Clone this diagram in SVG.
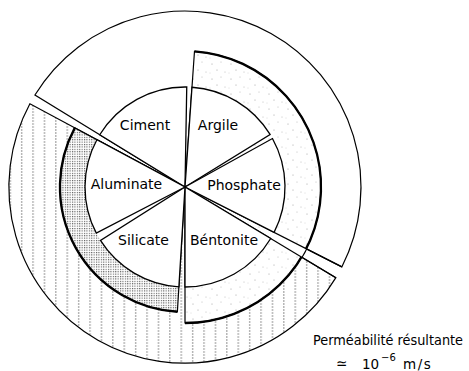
<svg xmlns="http://www.w3.org/2000/svg" width="469" height="371" viewBox="0 0 469 371">
<defs>
<pattern id="hatch" patternUnits="userSpaceOnUse" x="0" y="0" width="11.4" height="6">
<line x1="10.3" y1="0" x2="10.3" y2="6" stroke="#707070" stroke-width="0.8" stroke-dasharray="2 1"/>
</pattern>
<pattern id="dense" patternUnits="userSpaceOnUse" width="2.4" height="2.4">
<rect x="0" y="0" width="1.1" height="1.1" fill="#505050"/>
</pattern>
<pattern id="sparse" patternUnits="userSpaceOnUse" width="19" height="15">
<circle cx="3" cy="4" r="0.55" fill="#9a9a9a"/>
<circle cx="12" cy="2" r="0.5" fill="#aaa"/>
<circle cx="8" cy="10" r="0.55" fill="#9a9a9a"/>
<circle cx="16" cy="12" r="0.5" fill="#aaa"/>
<circle cx="1" cy="13" r="0.45" fill="#b0b0b0"/>
</pattern>
<style>
.edge{stroke:#000;stroke-width:1.2;stroke-linejoin:miter}
.line{fill:none;stroke:#000;stroke-width:1.2}
.wedge{fill:#fff;stroke:#000;stroke-width:1.3;stroke-linejoin:miter}
.thick{fill:none;stroke:#000;stroke-width:2.3}
.lbl{font-family:"DejaVu Sans","Liberation Sans",sans-serif;font-size:14px;fill:#000;text-anchor:middle}
.note{font-family:"DejaVu Sans","Liberation Sans",sans-serif;font-size:13.5px;fill:#000}
</style>
</defs>
<rect width="469" height="371" fill="#fff"/>

<g id="outer-hatched">
<path d="M185,187 L335.87,277.64 A176,176 0 0 1 29.9,103.8 Z" fill="#fff"/>
<path d="M185,187 L335.87,277.64 A176,176 0 0 1 29.9,103.8 Z" fill="url(#hatch)" class="edge"/>
</g>
<g id="outer-white">
<path d="M185,187 L34.94,95.04 A176,176 0 0 1 341.82,266.9 Z" fill="#fff" class="edge"/>
</g>
<g id="ring-light">
<path d="M185,187 L194.49,51.33 A136,136 0 0 1 185,323 Z" fill="#fff"/>
<path d="M185,187 L194.49,51.33 A136,136 0 0 1 185,323 Z" fill="url(#sparse)" class="edge"/>
<path d="M194.49,51.33 A136,136 0 0 1 185,323" class="thick"/>
</g>
<g id="ring-dense">
<path d="M185,187 L177.37,311.77 A125,125 0 0 1 74.8,127.9 Z" fill="#fff"/>
<path d="M185,187 L177.37,311.77 A125,125 0 0 1 74.8,127.9 Z" fill="url(#dense)" class="edge"/>
<path d="M177.37,311.77 A125,125 0 0 1 74.8,127.9" class="thick"/>
</g>
<g id="separators">
<polygon points="274.1,232.4 306.18,248.74 301.58,257.04 270.72,238.5" fill="#fff"/>
<polygon points="185,187 100.47,240.44 96.3,233.17" fill="#fff"/>
<line x1="185" y1="187" x2="341.82" y2="266.9" class="line"/>
<line x1="185" y1="187" x2="335.87" y2="277.64" class="line"/>
</g>

<g id="ciment">
<path d="M185,187 L99.74,134.75 A100,100 0 0 1 186.75,87 Z" class="wedge"/>
<text x="145" y="129.5" class="lbl">Ciment</text>
</g>
<g id="argile">
<path d="M185,187 L191.98,87.24 A100,100 0 0 1 270.08,134.45 Z" class="wedge"/>
<text x="218" y="129.5" class="lbl">Argile</text>
</g>
<g id="phosphate">
<path d="M185,187 L272.46,138.52 A100,100 0 0 1 274.1,232.4 Z" class="wedge"/>
<text x="244" y="190" class="lbl">Phosphate</text>
</g>
<g id="bentonite">
<path d="M185,187 L270.72,238.5 A100,100 0 0 1 185,287 Z" class="wedge"/>
<text x="224" y="244.5" class="lbl">Béntonite</text>
</g>
<g id="silicate">
<path d="M185,187 L178.9,286.81 A100,100 0 0 1 100.47,240.44 Z" class="wedge"/>
<text x="143.5" y="244.5" class="lbl">Silicate</text>
</g>
<g id="aluminate">
<path d="M185,187 L96.3,233.17 A100,100 0 0 1 96.87,139.74 Z" class="wedge"/>
<text x="126.5" y="189" class="lbl">Aluminate</text>
</g>

<g id="legend">
<text x="313" y="345" class="note" textLength="150" lengthAdjust="spacingAndGlyphs">Perméabilité résultante</text>
<text x="336" y="368" class="note" font-size="15">≃</text>
<text y="369" class="note" font-size="14"><tspan x="362">10</tspan><tspan x="381" dy="-8" font-size="10">−6</tspan><tspan x="403" dy="8" letter-spacing="1.5">m/s</tspan></text>
</g>
</svg>
